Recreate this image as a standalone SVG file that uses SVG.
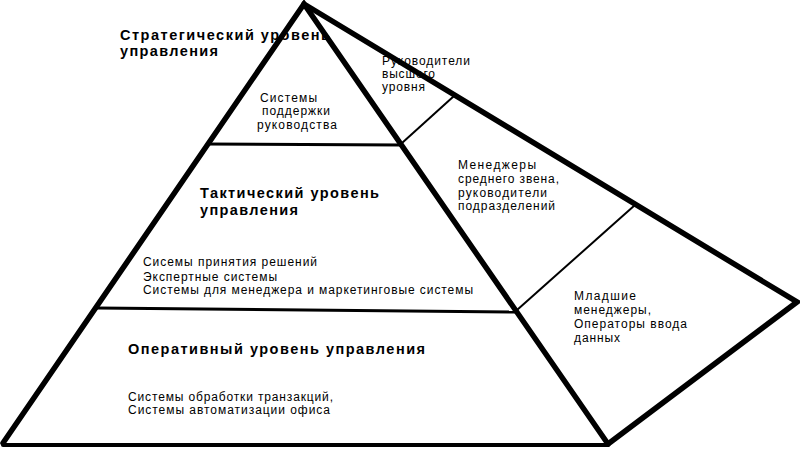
<svg xmlns="http://www.w3.org/2000/svg" width="800" height="449" viewBox="0 0 800 449">
<style>
.t{font-family:"Liberation Sans",Arial,sans-serif;font-size:12px;fill:#000}
.b{font-family:"Liberation Sans",Arial,sans-serif;font-size:14.5px;font-weight:bold;fill:#000}
.thick{stroke:#000;stroke-width:5.5;fill:none;stroke-linejoin:miter;stroke-linecap:round}
.mid{stroke:#000;stroke-width:3;fill:none}
.thin{stroke:#000;stroke-width:2;fill:none}
</style>
<rect x="0" y="0" width="800" height="449" fill="#fff"/>
<g id="strategic">
<text class="b" x="120" y="40" textLength="210" lengthAdjust="spacing">Стратегический уровень</text>
<text class="b" x="120" y="56" textLength="98" lengthAdjust="spacing">управления</text>
<text class="t" x="260" y="102" textLength="57" lengthAdjust="spacing">Системы</text>
<text class="t" x="262" y="115" textLength="68" lengthAdjust="spacing">поддержки</text>
<text class="t" x="257" y="129" textLength="80" lengthAdjust="spacing">руководства</text>
</g>
<g id="tactical">
<text class="b" x="200" y="198" textLength="179" lengthAdjust="spacing">Тактический уровень</text>
<text class="b" x="200" y="215" textLength="98" lengthAdjust="spacing">управления</text>
<text class="t" x="143" y="266" textLength="174" lengthAdjust="spacing">Сисемы принятия решений</text>
<text class="t" x="143" y="281" textLength="134" lengthAdjust="spacing">Экспертные системы</text>
<text class="t" x="143" y="294" textLength="330" lengthAdjust="spacing">Системы для менеджера и маркетинговые системы</text>
</g>
<g id="operational">
<text class="b" x="128" y="354" textLength="297" lengthAdjust="spacing">Оперативный уровень управления</text>
<text class="t" x="128" y="401" textLength="205" lengthAdjust="spacing">Системы обработки транзакций,</text>
<text class="t" x="128" y="414" textLength="202" lengthAdjust="spacing">Системы автоматизации офиса</text>
</g>
<g id="top-managers">
<text class="t" x="382" y="65" textLength="88" lengthAdjust="spacing">Руководители</text>
<text class="t" x="382" y="78" textLength="53" lengthAdjust="spacing">высшего</text>
<text class="t" x="382" y="91" textLength="43" lengthAdjust="spacing">уровня</text>
</g>
<g id="middle-managers">
<text class="t" x="458" y="169" textLength="78" lengthAdjust="spacing">Менеджеры</text>
<text class="t" x="458" y="183" textLength="101" lengthAdjust="spacing">среднего звена,</text>
<text class="t" x="458" y="197" textLength="89" lengthAdjust="spacing">руководители</text>
<text class="t" x="458" y="210" textLength="97" lengthAdjust="spacing">подразделений</text>
</g>
<g id="junior-managers">
<text class="t" x="574" y="300" textLength="62" lengthAdjust="spacing">Младшие</text>
<text class="t" x="574" y="314" textLength="77" lengthAdjust="spacing">менеджеры,</text>
<text class="t" x="574" y="328" textLength="113" lengthAdjust="spacing">Операторы ввода</text>
<text class="t" x="574" y="342" textLength="46" lengthAdjust="spacing">данных</text>
</g>
<g id="connectors">
<line class="mid" x1="206" y1="144" x2="402" y2="145"/>
<line class="mid" x1="97" y1="308" x2="517" y2="312"/>
<line class="thin" x1="402" y1="143" x2="454" y2="96"/>
<line class="thin" x1="517" y1="310" x2="635" y2="205"/>
<line class="thick" x1="3" y1="445" x2="608" y2="445" style="stroke-width:4"/>
<path class="thick" d="M3,443 L304,4 L608,444"/>
<path class="thick" d="M304,4 L797,302 L608,444"/>
</g>
</svg>
